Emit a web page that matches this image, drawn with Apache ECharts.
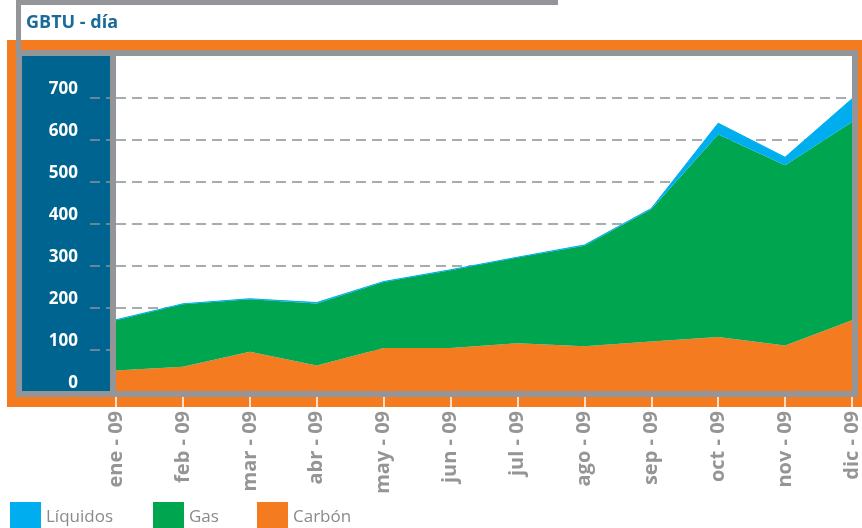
<!DOCTYPE html>
<html>
<head>
<meta charset="utf-8">
<script src="https://cdn.jsdelivr.net/npm/echarts@6/dist/echarts.min.js"></script>
<style>
  html, body { margin: 0; padding: 0; background: #fff; }
  #chart { width: 862px; height: 528px; }
</style>
</head>
<body>
<div id="chart"></div>
<script>
// datos (GBTU por día)
const months = ['ene - 09', 'feb - 09', 'mar - 09', 'abr - 09', 'may - 09', 'jun - 09',
  'jul - 09', 'ago - 09', 'sep - 09', 'oct - 09', 'nov - 09', 'dic - 09'];
const carbon = [51, 60, 96, 63, 105, 105, 116, 109, 120, 131, 111, 171];
const gas = [120, 149, 125, 148, 157, 185, 204, 239, 315, 482, 429, 472];
const liquidos = [1, 1, 1, 2, 1, 1, 1, 2, 2, 27, 19, 55];
const yTicks = [0, 100, 200, 300, 400, 500, 600, 700];

const ORANGE = '#f47b20';
const GREEN = '#00a54f';
const BLUE = '#00aeef';
const GRAY = '#939598';
const PANEL = '#006491';
const FONT = '"Open Sans", "Noto Sans", sans-serif';

const chart = echarts.init(document.getElementById('chart'));

const legendBox = (name, left) => ({
  data: [name],
  left: left,
  top: 493,
  icon: 'rect',
  itemWidth: 31,
  itemHeight: 31,
  selectedMode: false,
  textStyle: {
    color: '#8a8a8a', fontSize: 17, lineHeight: 17, fontFamily: FONT,
    padding: [22, 0, 0, 0]
  }
});

const areaSeries = (name, data, color, lineWidth) => ({
  name: name,
  type: 'line',
  stack: 'total',
  data: data,
  symbol: 'none',
  color: color,
  lineStyle: { width: lineWidth, color: color },
  areaStyle: { color: color, opacity: 1 },
  emphasis: { disabled: true }
});

chart.setOption({
  animation: false,
  textStyle: { fontFamily: FONT },
  grid: { left: 116, right: 10, top: 98, bottom: 136 },
  legend: [
    legendBox('Líquidos', 5),
    legendBox('Gas', 148),
    legendBox('Carbón', 252)
  ],
  xAxis: {
    type: 'category',
    data: months,
    boundaryGap: false,
    axisLine: { show: false },
    axisTick: { show: true, length: 15, lineStyle: { color: '#ffffff', width: 1.5 } },
    axisLabel: {
      rotate: 90,
      margin: 19,
      color: '#959595',
      fontWeight: 'bold',
      fontSize: 20,
      fontFamily: FONT
    }
  },
  yAxis: {
    type: 'value',
    min: yTicks[0],
    max: yTicks[yTicks.length - 1],
    interval: 100,
    axisLine: { show: false },
    axisTick: { show: true, length: 26, lineStyle: { color: '#8b919b', width: 1.5, type: [10, 6] } },
    axisLabel: {
      margin: 38,
      color: '#ffffff',
      fontWeight: 'bold',
      fontSize: 17,
      verticalAlign: 'bottom',
      fontFamily: FONT
    },
    splitLine: { lineStyle: { color: '#8b919b', width: 1.5, type: [10, 6] } }
  },
  series: [
    areaSeries('Carbón', carbon, ORANGE, 0),
    areaSeries('Gas', gas, GREEN, 0),
    areaSeries('Líquidos', liquidos, BLUE, 1)
  ],
  graphic: [
    // marco de fondo
    { type: 'rect', z: -10, shape: { x: 7, y: 40, width: 855, height: 367 }, style: { fill: ORANGE } },
    { type: 'rect', z: -9, shape: { x: 16, y: 50, width: 842, height: 347 }, style: { fill: GRAY } },
    { type: 'rect', z: -8, shape: { x: 22, y: 56, width: 88, height: 336 }, style: { fill: PANEL } },
    { type: 'rect', z: -8, shape: { x: 116, y: 56, width: 736, height: 336 }, style: { fill: '#ffffff' } },
    // caja del título
    { type: 'rect', z: -7, shape: { x: 16, y: 0, width: 542, height: 5 }, style: { fill: GRAY } },
    { type: 'rect', z: -7, shape: { x: 16, y: 0, width: 5, height: 50 }, style: { fill: GRAY } },
    {
      type: 'text', left: 26, top: 14, z: 10,
      style: { text: 'GBTU - día', fill: '#1a6b99', font: 'bold 18px ' + FONT }
    },
    // bordes grises encima del área
    { type: 'rect', z: 100, shape: { x: 110, y: 56, width: 6, height: 341 }, style: { fill: GRAY } },
    { type: 'rect', z: 100, shape: { x: 16, y: 391, width: 842, height: 6 }, style: { fill: GRAY } },
    { type: 'rect', z: 100, shape: { x: 852, y: 50, width: 6, height: 347 }, style: { fill: GRAY } }
  ]
});
</script>
</body>
</html>
